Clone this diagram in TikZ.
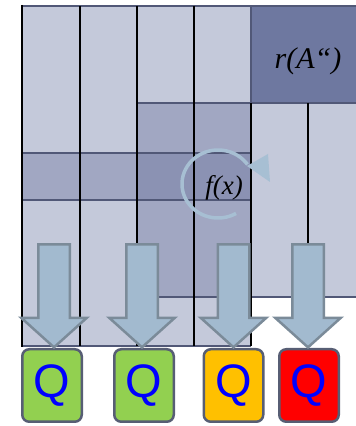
\documentclass[tikz,border=0pt]{standalone}
\usepackage{fontspec}
\setmainfont{Liberation Serif}
\newfontfamily\qfont{Liberation Sans}
\usepackage{xcolor}
\definecolor{celllight}{HTML}{C4C9DA}
\definecolor{cellmid}{HTML}{A1A7C2}
\definecolor{celldark}{HTML}{8B92B3}
\definecolor{cellr}{HTML}{6E78A0}
\definecolor{celledge}{HTML}{515877}
\definecolor{flowfill}{HTML}{A2BACF}
\definecolor{flowedge}{HTML}{7B8B99}
\definecolor{loopblue}{HTML}{A7BFD3}
\definecolor{qedge}{HTML}{575E74}
\definecolor{qgreen}{HTML}{92D050}
\definecolor{qorange}{HTML}{FFC000}
\definecolor{qred}{HTML}{FF0000}
\definecolor{qblue}{HTML}{0000FF}
\usepackage{tikz}
\usetikzlibrary{shapes.arrows,positioning,calc}
\tikzset{
  cellrule/.style={celledge,line width=2.5pt},
  colrule/.style={black,line width=1.4pt},
  loopline/.style={loopblue,line width=3.5pt},
  qbox/.style={draw=qedge,line width=2.5pt,rounded corners=7pt,minimum width=59.5pt,minimum height=72.5pt,inner sep=0pt,text=qblue,font=\qfont\fontsize{47}{47}\selectfont},
  qflow/.style={single arrow,draw=flowedge,fill=flowfill,line width=2.5pt,rotate=-90,minimum height=103pt,minimum width=63.5pt,single arrow head extend=17pt,single arrow tip angle=96,inner xsep=0pt,inner ysep=14.5pt,anchor=tip},
  mathlabel/.style={inner sep=0pt,font=\itshape\fontsize{#1}{#1}\selectfont},
}

\begin{document}
\begin{tikzpicture}[x=1pt,y=1pt]
\useasboundingbox (0,0) rectangle (356,426);
% cells
\fill[celllight] (22,80) rectangle (251,420);
\fill[celllight] (251,129) rectangle (356,323);
\fill[cellr] (251,323) rectangle (356,420);
\fill[cellmid] (137,129) rectangle (251,323);
\fill[cellmid] (22,226) rectangle (137,273);
\fill[celldark] (137,226) rectangle (251,273);
% rules
\draw[cellrule] (22,420) -- (356,420);
\draw[cellrule] (137,323) -- (356,323);
\draw[cellrule] (22,273) -- (251,273) (22,226) -- (251,226);
\draw[cellrule] (137,129) -- (356,129);
\draw[cellrule] (22,80) -- (251,80);
\draw[cellrule] (251,420) -- (251,323);
% columns
\draw[colrule,line width=2.2pt] (22,421) -- (22,79);
\foreach \x in {80,137,194} \draw[colrule] (\x,420) -- (\x,80);
\draw[colrule] (251,323) -- (251,80);
\draw[colrule] (308,323) -- (308,129);
% labels
\node[mathlabel=30] (ra) at (308,365) {r(A“)};
\node[mathlabel=27] (fx) at (224,238) {f(x)};
% loop around f(x)
\coordinate (loopc) at (218,242);
\draw[loopline] ($(loopc)+(-60:36 and 34)$) arc[start angle=-60,end angle=-325,x radius=36,y radius=34];
\fill[loopblue] (247,260) -- (268,272) -- (270,244) -- cycle;
% Q boxes
\node[qbox,fill=qgreen] (q1) at (52,40.5) {Q};
\node[qbox,fill=qgreen] (q2) at (144,40.5) {Q};
\node[qbox,fill=qorange] (q3) at (233.5,40.5) {Q};
\node[qbox,fill=qred] (q4) at (309,40.5) {Q};
% arrows into the boxes
\node[qflow] (f1) at ([xshift=2pt,yshift=-1pt]q1.north) {};
\node[qflow] (f2) at ([xshift=-2pt,yshift=-1pt]q2.north) {};
\node[qflow] (f3) at ([yshift=-1pt]q3.north) {};
\node[qflow] (f4) at ([xshift=-1pt,yshift=-1pt]q4.north) {};
\end{tikzpicture}
\end{document}
